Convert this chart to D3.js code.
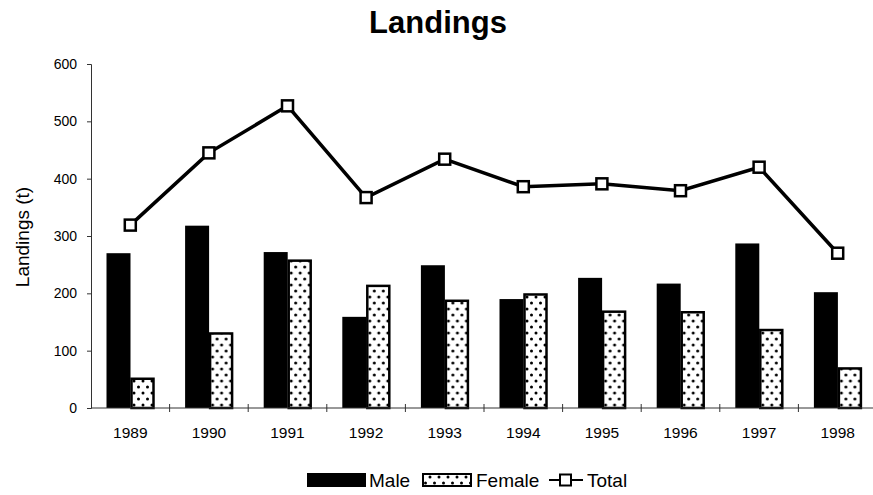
<!DOCTYPE html>
<html>
  <head>
    <script type="text/javascript" src="https://cdn.jsdelivr.net/npm/d3@7/dist/d3.min.js"></script>
    <style>
      body { margin: 0; background: #fff; }
      text { font-family: Arial, "Liberation Sans", sans-serif; fill: #000; }
      .axis path, .axis line { stroke: #333; stroke-width: 1; }
    </style>
  </head>
  <body>
    <div id="chart"></div>
  </body>
  <script>
  // data
  var years = ['1989', '1990', '1991', '1992', '1993', '1994', '1995', '1996', '1997', '1998'];
  var male = [270, 318, 272, 159, 249, 190, 227, 217, 287, 202];
  var female = [51, 130, 257, 213, 187, 198, 168, 167, 136, 69];
  var total = [319, 445, 527, 367, 434, 386, 391, 379, 420, 270];
  var yTicks = [0, 100, 200, 300, 400, 500, 600];
  var seriesNames = ['Male', 'Female'];

  (function (d3) {
    'use strict';

    var width = 873, height = 495;
    var left = 91, right = 877, top = 64, bottom = 408;

    var svg = d3.select('#chart')
      .append('svg')
      .attr('width', width)
      .attr('height', height);

    // dotted fill for female bars
    var pat = svg.append('defs').append('pattern')
      .attr('id', 'dots')
      .attr('patternUnits', 'userSpaceOnUse')
      .attr('width', 9)
      .attr('height', 12);
    pat.append('rect').attr('width', 9).attr('height', 12).attr('fill', '#fff');
    pat.append('circle').attr('cx', 2.5).attr('cy', 3).attr('r', 1.5).attr('fill', '#000');
    pat.append('circle').attr('cx', 7).attr('cy', 9).attr('r', 1.5).attr('fill', '#000');

    var x = d3.scaleBand().domain(years).range([left, right]).padding(0);
    var xSub = d3.scaleBand().domain(seriesNames).range([15.5, 63.5]).padding(0);
    var y = d3.scaleLinear().domain([0, 600]).range([bottom, top]);

    // title
    svg.append('text')
      .attr('x', 438)
      .attr('y', 33)
      .attr('text-anchor', 'middle')
      .style('font-size', '31px')
      .style('font-weight', 'bold')
      .text('Landings');

    // y axis
    var yAxis = svg.append('g')
      .attr('class', 'axis')
      .attr('transform', 'translate(' + left + ',0)')
      .call(d3.axisLeft(y).tickValues(yTicks).tickSize(4).tickPadding(10));
    yAxis.selectAll('text').style('font-size', '14px');

    svg.append('text')
      .attr('transform', 'translate(29,' + ((top + bottom) / 2 + 1) + ') rotate(-90)')
      .attr('text-anchor', 'middle')
      .style('font-size', '19px')
      .text('Landings (t)');

    // bars
    var groups = svg.selectAll('.year')
      .data(years)
      .enter()
      .append('g')
      .attr('class', 'year')
      .attr('transform', function (d) { return 'translate(' + x(d) + ',0)'; });

    groups.append('rect')
      .attr('x', xSub('Male'))
      .attr('y', function (d, i) { return y(male[i]); })
      .attr('width', xSub.bandwidth())
      .attr('height', function (d, i) { return y(0) - y(male[i]); })
      .attr('fill', '#000');

    groups.append('rect')
      .attr('x', xSub('Female') + 1)
      .attr('y', function (d, i) { return y(female[i]); })
      .attr('width', xSub.bandwidth() - 2)
      .attr('height', function (d, i) { return y(0) - y(female[i]); })
      .attr('fill', 'url(#dots)')
      .attr('stroke', '#000')
      .attr('stroke-width', 2.5);

    // x axis
    var xAxisG = svg.append('g').attr('class', 'axis');
    xAxisG.append('line')
      .attr('x1', left).attr('x2', right)
      .attr('y1', bottom).attr('y2', bottom);
    xAxisG.selectAll('.tk')
      .data(years.slice(1))
      .enter()
      .append('line')
      .attr('x1', function (d) { return x(d); })
      .attr('x2', function (d) { return x(d); })
      .attr('y1', bottom - 4)
      .attr('y2', bottom + 4);
    xAxisG.selectAll('.lab')
      .data(years)
      .enter()
      .append('text')
      .attr('x', function (d) { return x(d) + x.bandwidth() / 2; })
      .attr('y', 438)
      .attr('text-anchor', 'middle')
      .style('font-size', '15.5px')
      .text(function (d) { return d; });

    // total line
    var line = d3.line()
      .x(function (d, i) { return x(years[i]) + x.bandwidth() / 2; })
      .y(function (d) { return y(d); });

    svg.append('path')
      .datum(total)
      .attr('d', line)
      .attr('fill', 'none')
      .attr('stroke', '#000')
      .attr('stroke-width', 3.5);

    svg.selectAll('.mk')
      .data(total)
      .enter()
      .append('rect')
      .attr('x', function (d, i) { return x(years[i]) + x.bandwidth() / 2 - 5.5; })
      .attr('y', function (d) { return y(d) - 5.5; })
      .attr('width', 11)
      .attr('height', 11)
      .attr('fill', '#fff')
      .attr('stroke', '#000')
      .attr('stroke-width', 2.5);

    // legend
    var legend = svg.append('g');
    legend.append('rect')
      .attr('x', 307).attr('y', 473).attr('width', 59).attr('height', 14)
      .attr('fill', '#000');
    legend.append('text')
      .attr('x', 369).attr('y', 487)
      .style('font-size', '19px')
      .text('Male');
    legend.append('rect')
      .attr('x', 423).attr('y', 474).attr('width', 48).attr('height', 12)
      .attr('fill', 'url(#dots)')
      .attr('stroke', '#000')
      .attr('stroke-width', 2);
    legend.append('text')
      .attr('x', 476).attr('y', 487)
      .style('font-size', '19px')
      .text('Female');
    legend.append('line')
      .attr('x1', 549).attr('x2', 583).attr('y1', 480).attr('y2', 480)
      .attr('stroke', '#000').attr('stroke-width', 2);
    legend.append('rect')
      .attr('x', 560).attr('y', 474.5).attr('width', 11).attr('height', 11)
      .attr('fill', '#fff').attr('stroke', '#000').attr('stroke-width', 2);
    legend.append('text')
      .attr('x', 587).attr('y', 487)
      .style('font-size', '19px')
      .text('Total');
  })(window.d3);
  </script>
</html>
